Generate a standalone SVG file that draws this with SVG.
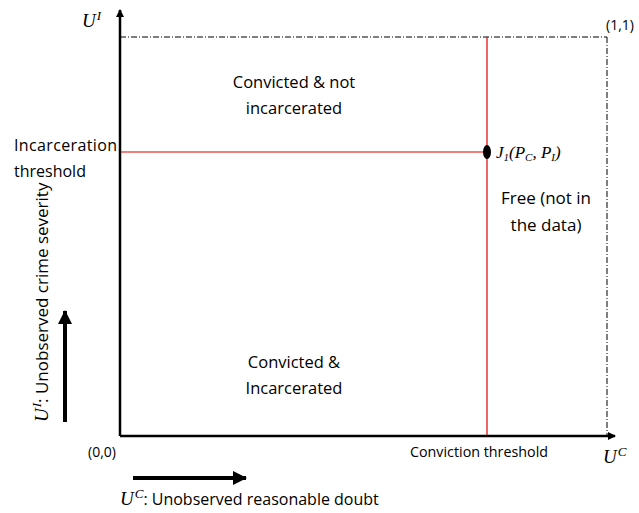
<svg xmlns="http://www.w3.org/2000/svg" width="639" height="513" viewBox="0 0 639 513">
<style>
.t{font-family:"Open Sans","Liberation Sans",sans-serif;fill:#000;}
.m{font-family:"Liberation Serif","DejaVu Serif",serif;font-style:italic;fill:#000;}
.dash{stroke:#000;stroke-width:1;stroke-dasharray:6,2,1,2;fill:none;}
.red{stroke:#e00000;stroke-width:1.2;fill:none;}
</style>
<defs>
<marker id="ah" markerWidth="8" markerHeight="8" refX="7" refY="4" orient="auto" markerUnits="userSpaceOnUse" viewBox="0 0 8 8">
<path d="M0,0 L8,4 L0,8 Z" fill="#000"/>
</marker>
<marker id="ahBig" markerWidth="14" markerHeight="14" refX="13" refY="7" orient="auto" markerUnits="userSpaceOnUse" viewBox="0 0 14 14">
<path d="M0,0 L14,7 L0,14 Z" fill="#000"/>
</marker>
</defs>
<rect width="639" height="513" fill="#fff"/>
<g id="connectors">
<line class="dash" x1="120" y1="37" x2="607" y2="37"/>
<line class="dash" x1="607" y1="37" x2="607" y2="436"/>
<line class="red" x1="487" y1="37" x2="487" y2="436"/>
<line class="red" x1="120" y1="152" x2="487" y2="152"/>
<line x1="120" y1="436" x2="120" y2="10" stroke="#000" stroke-width="2.5" marker-end="url(#ah)"/>
<line x1="120" y1="436" x2="615" y2="436" stroke="#000" stroke-width="2.5" marker-end="url(#ah)"/>
<line x1="65" y1="422" x2="65" y2="311" stroke="#000" stroke-width="4" marker-end="url(#ahBig)"/>
<line x1="133" y1="478" x2="246" y2="478" stroke="#000" stroke-width="4" marker-end="url(#ahBig)"/>
</g>
<g id="point">
<ellipse cx="487" cy="152" rx="4" ry="7" fill="#000"/>
<text class="m" x="496" y="158" font-size="17">J<tspan font-size="11" dy="3">1</tspan><tspan dy="-3">(P</tspan><tspan font-size="11" dy="3">C</tspan><tspan dy="-3">,  P</tspan><tspan font-size="11" dy="3">I</tspan><tspan dy="-3">)</tspan></text>
</g>
<g id="region-top">
<text class="t" x="294" y="88" font-size="16.5" text-anchor="middle">Convicted &amp; not</text>
<text class="t" x="294" y="114" font-size="16.5" text-anchor="middle">incarcerated</text>
</g>
<g id="region-bottom">
<text class="t" x="294" y="368" font-size="16.5" text-anchor="middle">Convicted &amp;</text>
<text class="t" x="294" y="394" font-size="16.5" text-anchor="middle">Incarcerated</text>
</g>
<g id="region-free">
<text class="t" x="546" y="204" font-size="17" text-anchor="middle">Free (not in</text>
<text class="t" x="546" y="231" font-size="17" text-anchor="middle">the data)</text>
</g>
<g id="labels">
<text class="t" x="14" y="151" font-size="16" textLength="103">Incarceration</text>
<text class="t" x="14" y="177" font-size="16">threshold</text>
<text class="t" x="88" y="457" font-size="14">(0,0)</text>
<text class="t" x="606" y="30" font-size="14">(1,1)</text>
<text class="t" x="410" y="457" font-size="14.3">Conviction threshold</text>
<text class="m" x="603" y="463" font-size="19">U<tspan font-size="13" dx="1" dy="-7">C</tspan></text>
<text class="m" x="82" y="27" font-size="19">U<tspan font-size="13" dx="1" dy="-7">I</tspan></text>
<text class="t" x="120" y="505" font-size="16"><tspan class="m" font-size="19">U</tspan><tspan class="m" font-size="13" dx="1" dy="-7">C</tspan><tspan dy="7">: Unobserved reasonable doubt</tspan></text>
<text class="t" transform="translate(48,422) rotate(-90)" font-size="17"><tspan class="m" font-size="19">U</tspan><tspan class="m" font-size="13" dx="1" dy="-7">I</tspan><tspan dy="7">: Unobserved crime severity</tspan></text>
</g>
</svg>
